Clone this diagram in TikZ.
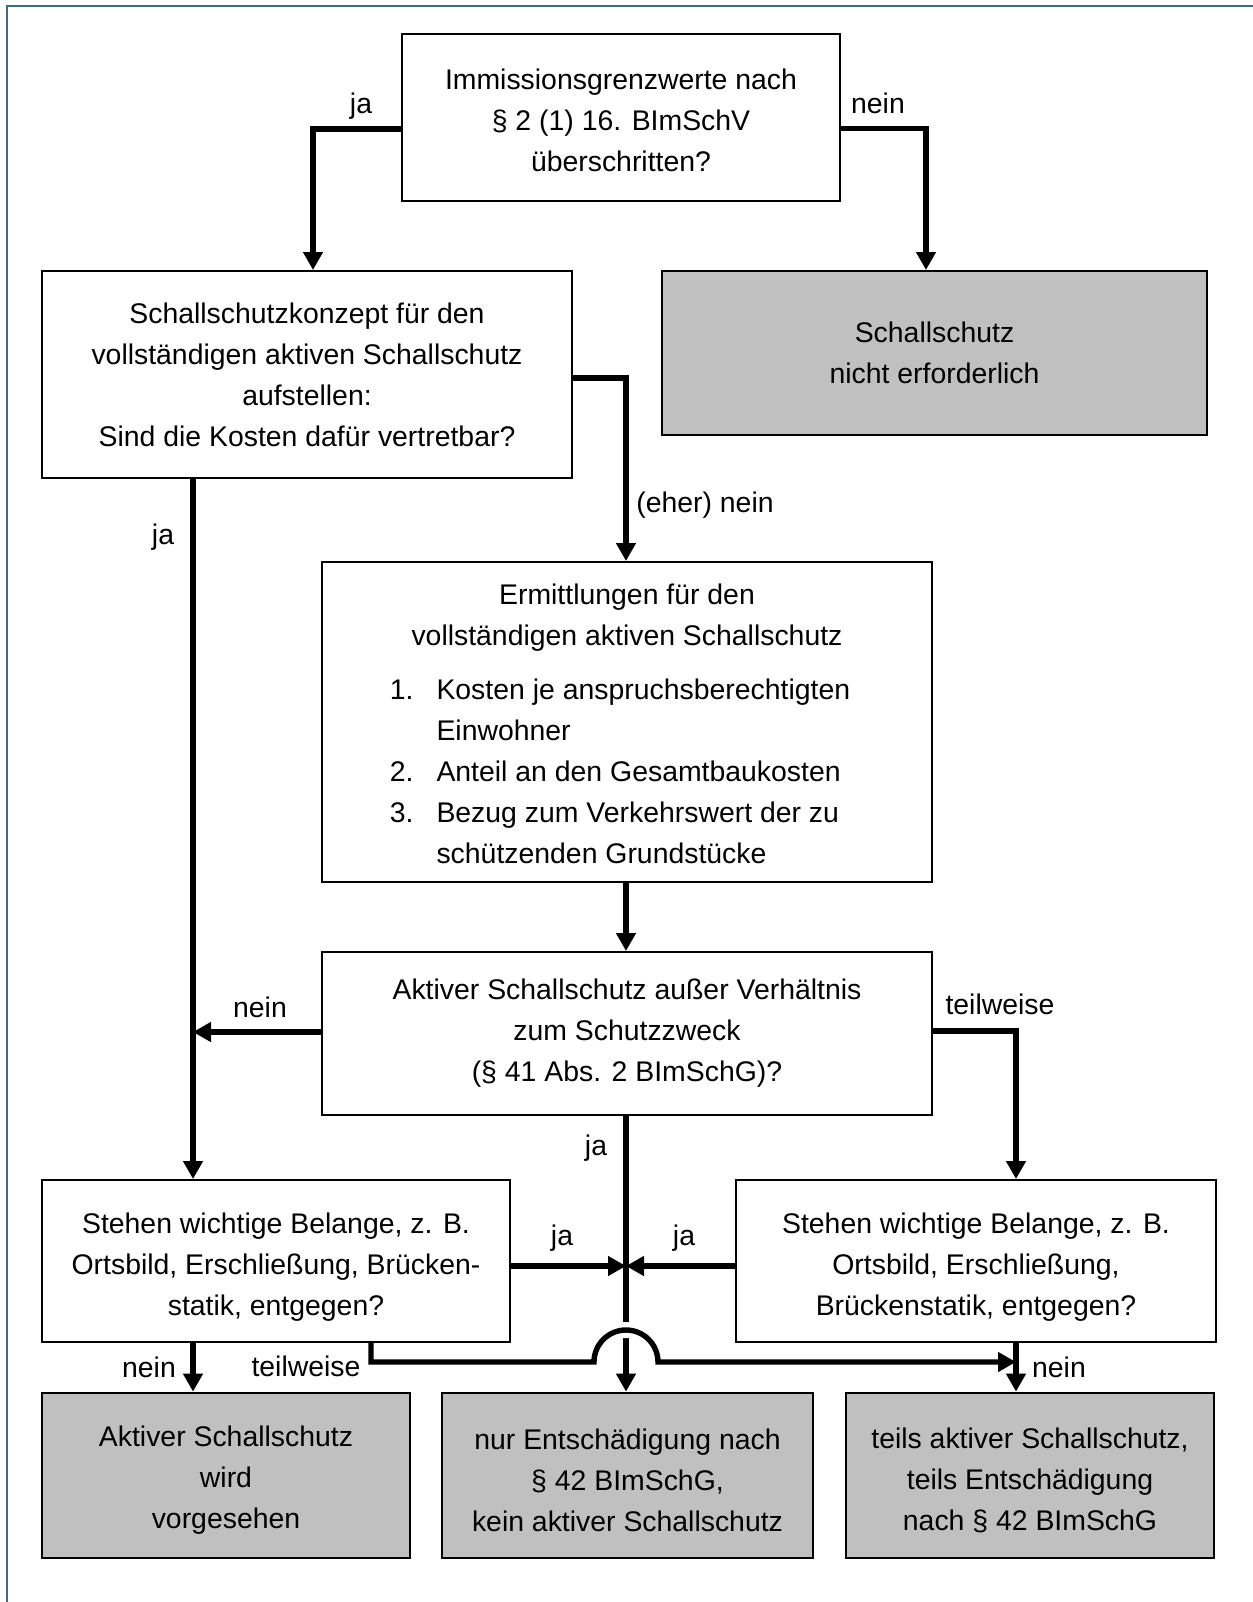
\documentclass[tikz,border=0pt]{standalone}
\usepackage{fontspec}
\setmainfont{Liberation Sans}
\usepackage{xcolor}
\usetikzlibrary{arrows.meta,positioning,calc}
\definecolor{framecol}{HTML}{41697F}
\definecolor{boxgray}{HTML}{C0C0C0}

\begin{document}
\begin{tikzpicture}[
    x=0.5pt, y=-0.5pt,
    font=\fontsize{14.2}{20.5}\selectfont,
    box/.style={rectangle, draw, line width=1pt, align=center, inner sep=0pt},
    graybox/.style={box, fill=boxgray},
    resbox/.style={graybox, line width=1.4pt, minimum width=184pt, minimum height=82.5pt},
    line/.style={line width=2.7pt},
    arrow/.style={line, -{Triangle[width=9.5pt,length=9pt]}},
    lab/.style={inner sep=0pt}
]
    \useasboundingbox (0,0) rectangle (1253,1602);
    \draw[framecol, line width=1.4pt] (7,1602) |- (1253,6);

    \node[box, minimum width=219pt, minimum height=83.5pt] (check) at (621,117.5)
        {\rule{0pt}{13pt}Immissionsgrenzwerte nach\\ § 2 (1) 16. BImSchV\\ überschritten?};
    \node[box, minimum width=265pt, minimum height=103.5pt] (konzept) at (307,374.5)
        {Schallschutzkonzept für den\\ vollständigen aktiven Schallschutz\\ aufstellen:\\ Sind die Kosten dafür vertretbar?};
    \node[graybox, minimum width=272.5pt, minimum height=82pt] (nicht) at (934.5,353)
        {Schallschutz\\ nicht erforderlich};
    \node[box, minimum width=305pt, minimum height=160pt] (ermitt) at (627,722)
        {\rule{0pt}{18pt}Ermittlungen für den\\ vollständigen aktiven Schallschutz\\[6.5pt]
         \hspace*{-7pt}\begin{tabular}[t]{@{}l@{\hspace{11.5pt}}l@{}}
            1. & Kosten je anspruchsberechtigten\\
               & Einwohner\\
            2. & Anteil an den Gesamtbaukosten\\
            3. & Bezug zum Verkehrswert der zu\\
               & schützenden Grundstücke
         \end{tabular}};
    \node[box, minimum width=305pt, minimum height=81.5pt] (verh) at (627,1033.5)
        {Aktiver Schallschutz außer Verhältnis\\ zum Schutzzweck\\ (§ 41 Abs. 2 BImSchG)?};
    \node[box, minimum width=234pt, minimum height=81pt] (belL) at (276,1261)
        {\rule{0pt}{16pt}Stehen wichtige Belange, z. B.\\ Ortsbild, Erschließung, Brücken-\\ statik, entgegen?};
    \node[box, minimum width=240pt, minimum height=81pt] (belR) at (976,1261)
        {\rule{0pt}{16pt}Stehen wichtige Belange, z. B.\\ Ortsbild, Erschließung,\\ Brückenstatik, entgegen?};
    \node[resbox] (resA) at (226,1475.5) {\rule{0pt}{15pt}Aktiver Schallschutz\\ wird\\ vorgesehen};
    \node[resbox, minimum width=185.5pt] (resB) at (627.5,1475.5)
        {\rule{0pt}{15pt}nur Entschädigung nach\\ § 42 BImSchG,\\ kein aktiver Schallschutz};
    \node[resbox] (resC) at (1030,1475.5)
        {\rule{0pt}{15pt}teils aktiver Schallschutz,\\ teils Entschädigung\\ nach § 42 BImSchG};

    \coordinate (lx) at (193,0);
    \coordinate (rx) at (1016,0);
    \coordinate (cx) at (626,0);
    \coordinate (jumpL) at (594,1362);
    \coordinate (jumpR) at (658,1362);

    \draw[arrow] ([yshift=-5.75pt]check.west) -| ([xshift=3pt]konzept.north);
    \draw[arrow] ([yshift=-5.5pt]check.east) -| ([xshift=-4.25pt]nicht.north);
    \draw[arrow] ([yshift=-1.75pt]konzept.east) -| (ermitt.north -| cx);
    \draw[arrow] (konzept.south -| lx) -- (belL.north -| lx);
    \draw[arrow] (ermitt.south -| cx) -- (verh.north -| cx);
    \draw[arrow] ([yshift=0.75pt]verh.west) -- ([yshift=0.75pt]verh.west -| lx);
    \draw[arrow] ([yshift=1.25pt]verh.east) -| (belR.north -| rx);
    \draw[arrow] (verh.south -| cx) -- (resB.north -| cx);
    \draw[arrow] ([yshift=-2.5pt]belL.east) -- ([yshift=-2.5pt]belL.east -| cx);
    \draw[arrow] ([yshift=-2.5pt]belR.west) -- ([yshift=-2.5pt]belR.west -| cx);
    \draw[arrow] (belL.south -| lx) -- (resA.north -| lx);
    \draw[arrow] (belR.south -| rx) -- (resC.north -| rx);
    \draw[white, line width=8pt] (jumpL) arc[start angle=180, end angle=0, radius=16pt];
    \draw[arrow] ([xshift=-70pt]belL.south east) |- (jumpL)
        arc[start angle=180, end angle=0, radius=16pt] -- (jumpR -| rx);

    \node[lab] (jaTop) at (361,106) {ja};
    \node[lab] (neinTop) at (878,103) {nein};
    \node[lab] (jaLeft) at (163,537) {ja};
    \node[lab] (eherNein) at (705,505) {(eher) nein};
    \node[lab] (neinMid) at (260,1007) {nein};
    \node[lab] (teilMid) at (1000,1004) {teilweise};
    \node[lab] (jaMid) at (596,1148) {ja};
    \node[lab] (jaL) at (562,1238) {ja};
    \node[lab] (jaR) at (684,1238) {ja};
    \node[lab] (neinL) at (149,1367) {nein};
    \node[lab] (teilL) at (306,1366) {teilweise};
    \node[lab] (neinR) at (1059,1367) {nein};
\end{tikzpicture}
\end{document}
